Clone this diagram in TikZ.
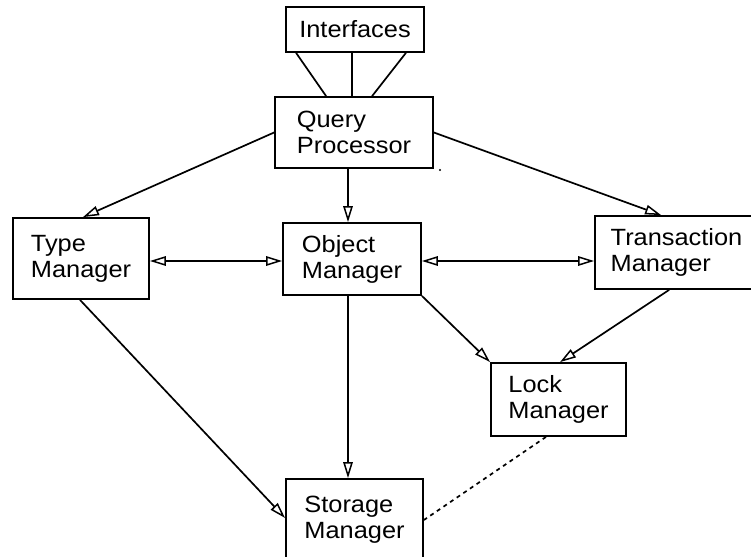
\documentclass[tikz,border=0pt]{standalone}
\usepackage{fontspec}
\setmainfont{Liberation Sans}[FakeStretch=1.08]
\usetikzlibrary{arrows.meta}
\begin{document}
\begin{tikzpicture}[x=1pt,y=-1pt,
  box/.style={draw,line width=1.8pt,rectangle,inner sep=0pt,align=left,
    font=\fontsize{23.5}{26}\selectfont},
  link/.style={line width=1.7pt},
  arr/.style={link,-{Triangle[open,length=16pt,width=9.5pt,line width=1.5pt]}},
  darr/.style={link,{Triangle[open,length=16pt,width=9.5pt,line width=1.5pt]}-{Triangle[open,length=16pt,width=9.5pt,line width=1.5pt]}},
  dotline/.style={line width=1.7pt,dash pattern=on 4pt off 4pt}]
\useasboundingbox (0,0) rectangle (751,556);
\clip (0,0) rectangle (751,556);
\node[box,minimum width=138pt,minimum height=45pt] (intf) at (355,29.5) {Interfaces};
\node[box,minimum width=158pt,minimum height=71pt] (qp) at (354,132.5) {Query\\Processor};
\node[box,minimum width=136pt,minimum height=81pt] (tm) at (81,258.5) {Type\\Manager};
\node[box,minimum width=138pt,minimum height=72pt] (om) at (352,259) {Object\\Manager};
\node[box,minimum width=163pt,minimum height=73pt] (trm) at (676.5,252.5) {Transaction\\Manager};
\node[box,minimum width=135pt,minimum height=73pt] (lm) at (558.5,399.5) {Lock\\Manager};
\node[box,minimum width=137pt,minimum height=82pt] (sm) at (354.5,520) {Storage\\Manager};
\coordinate (speck) at (440,170);
% interfaces to query processor
\draw[link] ([xshift=11pt]intf.south west) -- ([xshift=52pt]qp.north west);
\draw[link] ([xshift=-3pt]intf.south) -- ([xshift=-2pt]qp.north);
\draw[link] ([xshift=-19pt]intf.south east) -- ([xshift=98pt]qp.north west);
% arrows
\draw[arr] (qp.west) -- ([xshift=2pt]tm.north);
\draw[arr] (qp.east) -- ([xshift=67pt]trm.north west);
\draw[arr] ([xshift=-6pt]qp.south) -- ([xshift=-4pt]om.north);
\draw[darr] ([yshift=-2.5pt]tm.east) -- ([yshift=-2pt]om.west);
\draw[darr] ([yshift=-2pt]om.east) -- ([yshift=-8.5pt]trm.west);
\draw[arr] (om.south east) -- (lm.north west);
\draw[arr] ([xshift=75pt]trm.south west) -- ([xshift=1.5pt]lm.north);
\draw[arr] ([xshift=-4pt]om.south) -- ([xshift=-6.5pt]sm.north);
\draw[arr] ([xshift=-1pt]tm.south) -- ([yshift=2pt]sm.west);
\draw[dotline] ([xshift=-12.5pt]lm.south) -- (sm.east);
\fill (speck) circle (1.1pt);
\end{tikzpicture}
\end{document}
